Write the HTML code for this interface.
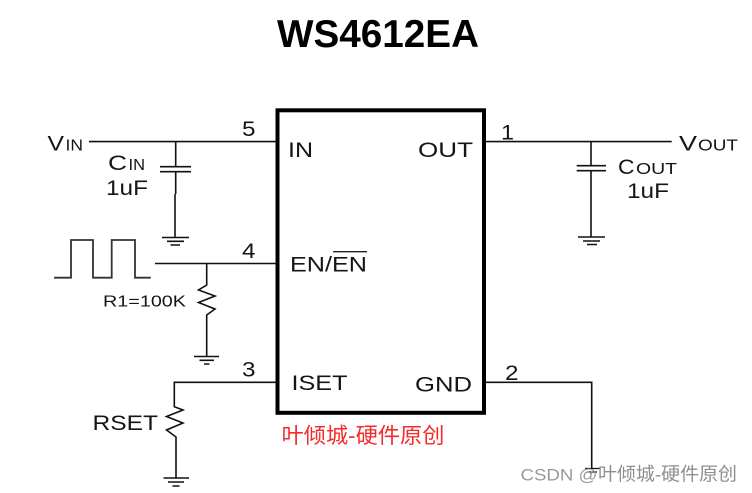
<!DOCTYPE html>
<html>
<head>
<meta charset="utf-8">
<style>
html,body{margin:0;padding:0;background:#fff;width:752px;height:493px;overflow:hidden}
svg{display:block}
text{font-family:"Liberation Sans",Arial,sans-serif;fill:#151515}
.l{font-size:21px}
.s{font-size:15.5px}
.cjk{font-family:"Liberation Sans","Noto Sans CJK SC",sans-serif}
</style>
</head>
<body>
<svg width="752" height="493" viewBox="0 0 752 493" xmlns="http://www.w3.org/2000/svg">
<g style="filter:blur(.35px)">
  <!-- title -->
  <text x="277" y="47" font-size="39" font-weight="700" textLength="202" lengthAdjust="spacingAndGlyphs" style="fill:#000">WS4612EA</text>

  <!-- IC body -->
  <rect x="277.500" y="110.300" width="206.500" height="302.500" fill="none" stroke="#000" stroke-width="4"/>

  <g fill="none" stroke="#111" stroke-width="1.600">
    <!-- VIN -->
    <path d="M89 141.600H276"/>
    <path d="M175.700 141.600V166.700M175.700 171.700V194M175 194V237"/>
    <path d="M160 166.700H191M160 171.700H191"/>
    <path d="M162 237.500H189M167 241.300H184M170.500 245H180"/>
    <!-- pulse -->
    <path d="M54 277.700H71V240H93V277.700H111.700V240H135V277.700H150.700" stroke="#333" stroke-width="1.800"/>
    <!-- EN -->
    <path d="M155 263.500H276"/>
    <path d="M206.700 263.500V285L198.500 290L215 296L198.500 302.500L215 309L206.700 315V356"/>
    <path d="M194 356.500H219M199.500 360.300H214M204 364H209.500"/>
    <!-- ISET -->
    <path d="M276 382.300H174.300V406.700L183 410L166.500 416.500L183 423L166.500 430L176 437V477.700"/>
    <path d="M163.500 478H189M168 482H184M172.500 486H179.500"/>
    <!-- OUT -->
    <path d="M486 141.600H671.700"/>
    <path d="M591 141.600V165.700M591 170.700V237"/>
    <path d="M576.700 165.700H606M576.700 170.700H606"/>
    <path d="M578 237H605M583 241H600M587 244.500H597"/>
    <!-- GND -->
    <path d="M486 382.300H591.700V468"/>
    <path d="M585 468.500H600M587 472H597" stroke-width="1.200"/>
  </g>

  <!-- pin labels -->
  <text class="l" x="288" y="157" textLength="25" lengthAdjust="spacingAndGlyphs">IN</text>
  <text class="l" x="418" y="157" textLength="55" lengthAdjust="spacingAndGlyphs">OUT</text>
  <text class="l" x="290" y="271.500" textLength="77" lengthAdjust="spacingAndGlyphs">EN/EN</text>
  <path d="M333 251.700H367" stroke="#222" stroke-width="1.300"/>
  <text class="l" x="291.500" y="390" textLength="56" lengthAdjust="spacingAndGlyphs">ISET</text>
  <text class="l" x="415" y="391.500" textLength="57" lengthAdjust="spacingAndGlyphs">GND</text>

  <!-- pin numbers -->
  <text class="l" x="242" y="136" textLength="13.500" lengthAdjust="spacingAndGlyphs">5</text>
  <text class="l" x="242" y="258" textLength="13.500" lengthAdjust="spacingAndGlyphs">4</text>
  <text class="l" x="242" y="376.500" textLength="13.500" lengthAdjust="spacingAndGlyphs">3</text>
  <text class="l" x="501" y="139.500" textLength="13" lengthAdjust="spacingAndGlyphs">1</text>
  <text class="l" x="505" y="380" textLength="13.500" lengthAdjust="spacingAndGlyphs">2</text>

  <!-- net labels -->
  <text class="l" x="47.500" y="150.700" textLength="16.500" lengthAdjust="spacingAndGlyphs">V</text>
  <text class="s" x="65.500" y="150.700" textLength="17.500" lengthAdjust="spacingAndGlyphs">IN</text>
  <text class="l" x="108" y="170" textLength="19" lengthAdjust="spacingAndGlyphs">C</text>
  <text class="s" x="128.500" y="170" textLength="16.500" lengthAdjust="spacingAndGlyphs">IN</text>
  <text class="l" x="106" y="195" textLength="42" lengthAdjust="spacingAndGlyphs">1uF</text>

  <text class="l" x="679" y="150.700" textLength="18" lengthAdjust="spacingAndGlyphs">V</text>
  <text class="s" x="698" y="150.700" textLength="40" lengthAdjust="spacingAndGlyphs">OUT</text>
  <text class="l" x="618" y="174" textLength="16.500" lengthAdjust="spacingAndGlyphs">C</text>
  <text class="s" x="636" y="174" textLength="41" lengthAdjust="spacingAndGlyphs">OUT</text>
  <text class="l" x="627" y="198" textLength="42" lengthAdjust="spacingAndGlyphs">1uF</text>

  <text x="103" y="306.700" font-size="16" textLength="83" lengthAdjust="spacingAndGlyphs">R1=100K</text>
  <text class="l" x="92.500" y="430" textLength="65.500" lengthAdjust="spacingAndGlyphs">RSET</text>

  <!-- red note -->
  <text class="cjk" x="281.500" y="443" font-size="21.500" textLength="163" lengthAdjust="spacingAndGlyphs" style="fill:#f52b2b">叶倾城-硬件原创</text>

  <!-- watermark -->
  <text x="520.500" y="480.500" font-size="16.500" textLength="77" lengthAdjust="spacingAndGlyphs" style="fill:#9a9a9a">CSDN @</text>
  <text class="cjk" x="598" y="480.500" font-size="18.500" textLength="139" lengthAdjust="spacingAndGlyphs" style="fill:#8f8f8f">叶倾城-硬件原创</text>
</g>
</svg>
</body>
</html>
